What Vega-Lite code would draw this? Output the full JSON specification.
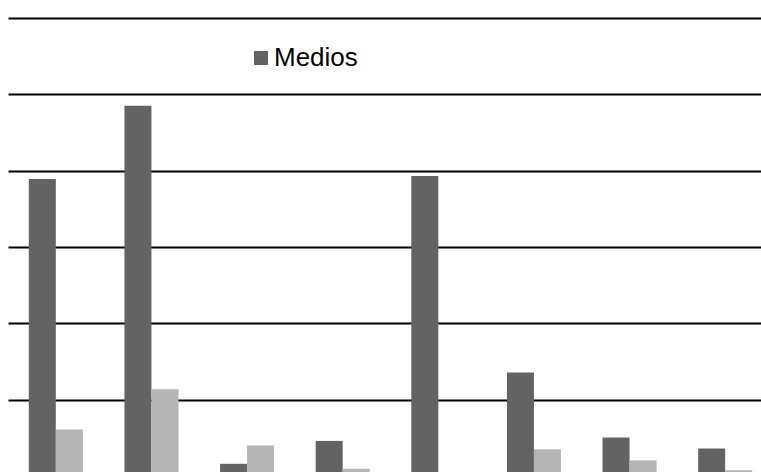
{
  "$schema": "https://vega.github.io/schema/vega-lite/v6.json",
  "autosize": {"type": "none"},
  "padding": {"left": 8, "top": 18, "right": 0, "bottom": 0},
  "width": 765,
  "height": 458,
  "background": "white",
  "config": {
    "view": {"stroke": null},
    "font": "Liberation Sans"
  },
  "data": {
    "values": [
      {"grupo": "G1", "serie": "Medios", "valor": 38.9},
      {"grupo": "G1", "serie": "Otros", "valor": 6.1},
      {"grupo": "G2", "serie": "Medios", "valor": 48.5},
      {"grupo": "G2", "serie": "Otros", "valor": 11.35},
      {"grupo": "G3", "serie": "Medios", "valor": 1.6},
      {"grupo": "G3", "serie": "Otros", "valor": 4.0},
      {"grupo": "G4", "serie": "Medios", "valor": 4.6},
      {"grupo": "G4", "serie": "Otros", "valor": 0.95},
      {"grupo": "G5", "serie": "Medios", "valor": 39.3},
      {"grupo": "G5", "serie": "Otros", "valor": 0},
      {"grupo": "G6", "serie": "Medios", "valor": 13.55},
      {"grupo": "G6", "serie": "Otros", "valor": 3.5},
      {"grupo": "G7", "serie": "Medios", "valor": 5.05},
      {"grupo": "G7", "serie": "Otros", "valor": 2.05},
      {"grupo": "G8", "serie": "Medios", "valor": 3.6},
      {"grupo": "G8", "serie": "Otros", "valor": 0.75}
    ]
  },
  "mark": {"type": "bar"},
  "encoding": {
    "x": {
      "field": "grupo",
      "type": "nominal",
      "sort": null,
      "scale": {"paddingInner": 0.435, "paddingOuter": 0.2175},
      "axis": null
    },
    "xOffset": {
      "field": "serie",
      "type": "nominal",
      "sort": ["Medios", "Otros"],
      "scale": {"paddingInner": 0, "paddingOuter": 0}
    },
    "y": {
      "field": "valor",
      "type": "quantitative",
      "scale": {"domain": [0, 60], "nice": false},
      "axis": {
        "values": [0, 10, 20, 30, 40, 50, 60],
        "grid": true,
        "gridColor": "black",
        "gridWidth": 1.8,
        "gridOpacity": 1,
        "domain": false,
        "ticks": false,
        "labels": false,
        "title": null
      }
    },
    "color": {
      "field": "serie",
      "type": "nominal",
      "scale": {"domain": ["Medios", "Otros"], "range": ["#636363", "#b4b4b4"]},
      "legend": {
        "values": ["Medios"],
        "orient": "none",
        "legendX": 240,
        "legendY": 27,
        "title": null,
        "symbolType": "square",
        "symbolSize": 196,
        "symbolStrokeWidth": 0,
        "symbolOpacity": 1,
        "labelFontSize": 26,
        "labelColor": "black",
        "labelFont": "Liberation Sans",
        "labelOffset": 0,
        "padding": 0
      }
    }
  }
}
